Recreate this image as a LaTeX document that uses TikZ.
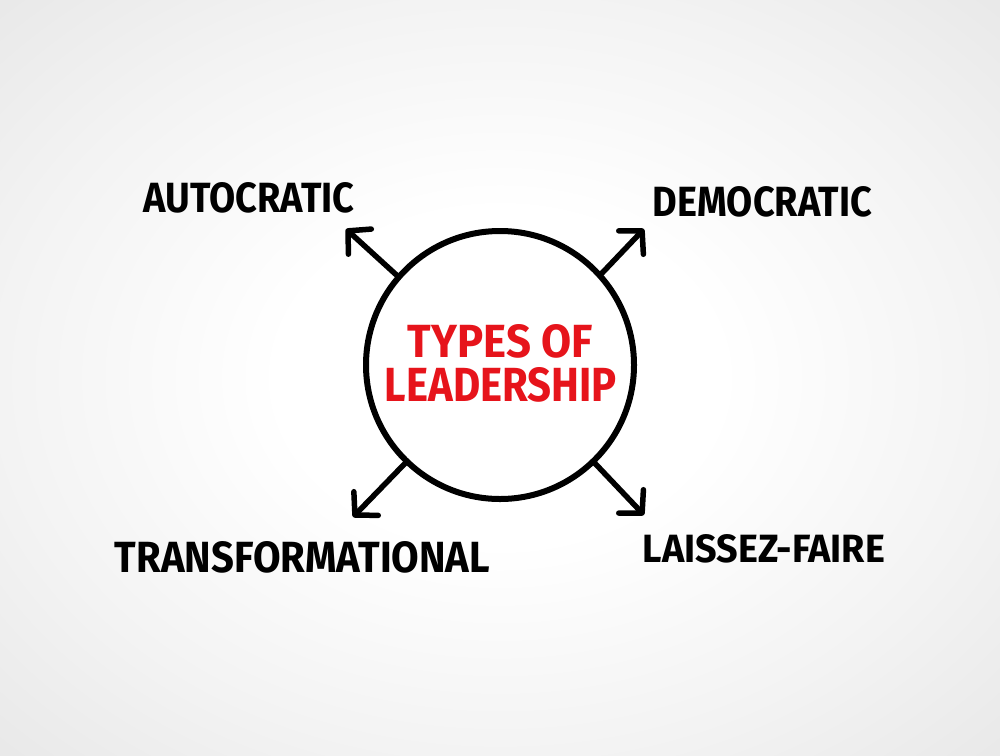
\documentclass[tikz,border=0pt]{standalone}
\usepackage{fontspec}
\setmainfont{Fira Sans}
\usetikzlibrary{arrows.meta}
\definecolor{titlered}{RGB}{230,20,27}
\definecolor{bgmid}{RGB}{243,243,243}
\definecolor{bgedge}{RGB}{232,232,232}
\pgfdeclareradialshading{bgshade}{\pgfpoint{0bp}{0bp}}{color(0bp)=(white); color(11bp)=(white); color(25bp)=(bgmid); color(36bp)=(bgedge); color(50bp)=(bgedge)}
\tikzset{
  lbl/.style={inner sep=0pt, anchor=center, text=black},
  ttl/.style={inner sep=0pt, anchor=center, text=titlered},
  ray/.style={line width=5.5pt, line cap=round, line join=round,
    -{Straight Barb[length=16pt, width=34pt, line width=5.5pt, round]}},
}
\newcommand{\fit}[3]{\resizebox{#1pt}{#2pt}{\bfseries #3}}
\begin{document}
\begin{tikzpicture}[x=1pt, y=-1pt]
\useasboundingbox (0,0) rectangle (1000,755);
\shade[shading=bgshade] (0,0) rectangle (1000,755);
\node[circle, draw=black, line width=6pt, fill=white, minimum size=268pt, inner sep=0pt] (c) at (500,365) {};
\node[ttl] (t1) at (500.5,341.5) {\fit{185}{33}{TYPES OF}};
\node[ttl] (t2) at (501,385) {\fit{232}{34}{LEADERSHIP}};
\coordinate (tipA) at (346,229);
\coordinate (tipB) at (644,229);
\coordinate (tipC) at (353,517);
\coordinate (tipD) at (644,515);
\draw[ray] (c.139) -- (tipA);
\draw[ray] (c.42) -- (tipB);
\draw[ray] (c.226) -- (tipC);
\draw[ray] (c.314) -- (tipD);
\node[lbl] (a) at (249,198) {\fit{211}{30}{AUTOCRATIC}};
\node[lbl] (d) at (762.5,202) {\fit{219}{30}{DEMOCRATIC}};
\node[lbl] (tr) at (302.5,557.5) {\fit{375}{31}{TRANSFORMATIONAL}};
\node[lbl] (lf) at (764,549) {\fit{242}{28}{LAISSEZ-FAIRE}};
\end{tikzpicture}
\end{document}
